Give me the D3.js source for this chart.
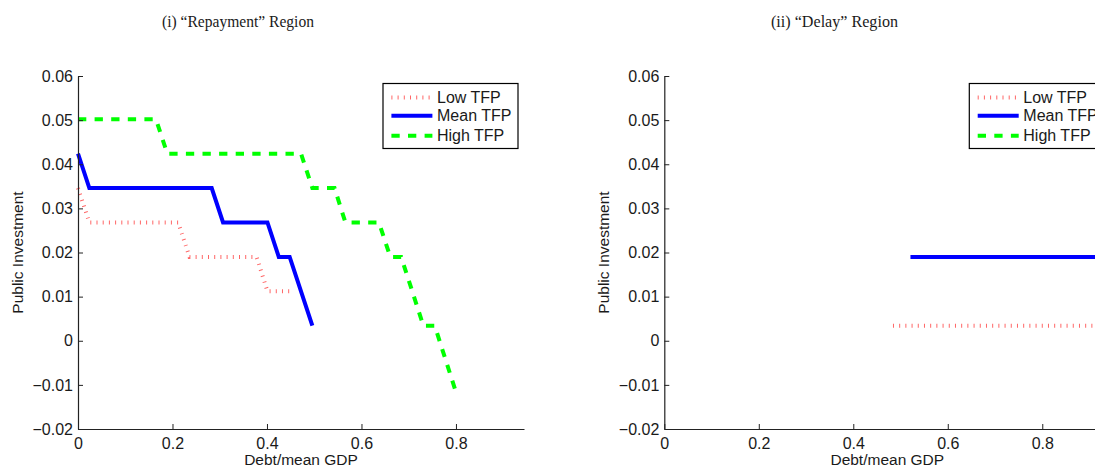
<!DOCTYPE html>
<html>
<head>
<meta charset="utf-8">
<script src="https://cdn.jsdelivr.net/npm/d3@7"></script>
<style>
  body { margin: 0; background: #fff; }
  svg { display: block; }
  text { font-family: "Liberation Sans", Arial, sans-serif; fill: #1a1a1a; }
  .title { font-family: "Liberation Serif", "Times New Roman", serif; font-size: 17px; }
</style>
</head>
<body>
<svg id="chart" width="1095" height="468"></svg>
<script>
// tick values and labels (same for both panels)
var xTicks = [0, 0.2, 0.4, 0.6, 0.8];
var xTickLabels = ["0", "0.2", "0.4", "0.6", "0.8"];
var yTicks = [-0.02, -0.01, 0, 0.01, 0.02, 0.03, 0.04, 0.05, 0.06];
var yTickLabels = ["\u22120.02", "\u22120.01", "0", "0.01", "0.02", "0.03", "0.04", "0.05", "0.06"];

var seriesNames = ["Low TFP", "Mean TFP", "High TFP"];

// (i) Repayment region
var lowRepayX = [0, 0.024, 0.212, 0.236, 0.378, 0.401, 0.448];
var lowRepayY = [0.0346, 0.0268, 0.0268, 0.0190, 0.0190, 0.0112, 0.0112];
var meanRepayX = [0, 0.024, 0.283, 0.307, 0.401, 0.425, 0.448, 0.496];
var meanRepayY = [0.0424, 0.0346, 0.0346, 0.0268, 0.0268, 0.0190, 0.0190, 0.0034];
var highRepayX = [0, 0.165, 0.189, 0.472, 0.496, 0.543, 0.566, 0.637, 0.661, 0.684, 0.731, 0.755, 0.802];
var highRepayY = [0.0502, 0.0502, 0.0424, 0.0424, 0.0346, 0.0346, 0.0268, 0.0268, 0.0190, 0.0190, 0.0034, 0.0034, -0.0123];

// (ii) Delay region
var lowDelayX = [0.484, 0.944];
var lowDelayY = [0.0034, 0.0034];
var meanDelayX = [0.521, 0.944];
var meanDelayY = [0.0190, 0.0190];
var highDelayX = [];
var highDelayY = [];

var styles = [
    { color: "#ff0000", width: 4, dash: "1 5.2", opacity: 0.6 },
    { color: "#0000ff", width: 4, dash: null, opacity: 1 },
    { color: "#00ff00", width: 4, dash: "8.3 8.3", opacity: 1 }
];

var svg = d3.select("#chart");
svg.append("rect").attr("width", 1095).attr("height", 468).attr("fill", "#fff");

function zip(xs, ys) {
    return xs.map(function(x, i) { return { x: x, y: ys[i] }; });
}

function drawPanel(left, title, titleX, titleW, series) {
    var width = 446, top = 76, bottom = 429;

    var x = d3.scaleLinear().domain([0, 0.944]).range([left, left + width]);
    var y = d3.scaleLinear().domain([-0.02, 0.06]).range([bottom, top]);

    // lines
    var line = d3.line()
        .x(function(d) { return x(d.x); })
        .y(function(d) { return y(d.y); });

    series.forEach(function(s, i) {
        if (!s.length) return;
        svg.append("path")
            .datum(s)
            .attr("d", line)
            .attr("fill", "none")
            .attr("stroke", styles[i].color)
            .attr("stroke-width", styles[i].width)
            .attr("stroke-opacity", styles[i].opacity)
            .attr("stroke-dasharray", styles[i].dash);
    });

    // axes, ticks pointing inward
    var xAxis = d3.axisBottom(x)
        .tickValues(xTicks)
        .tickFormat(function(d, i) { return xTickLabels[i]; })
        .tickSizeInner(-5).tickSizeOuter(0).tickPadding(9);
    var yAxis = d3.axisLeft(y)
        .tickValues(yTicks)
        .tickFormat(function(d, i) { return yTickLabels[i]; })
        .tickSizeInner(-5).tickSizeOuter(0).tickPadding(5);

    var gx = svg.append("g").attr("transform", "translate(0," + bottom + ")").call(xAxis);
    var gy = svg.append("g").attr("transform", "translate(" + left + ",0)").call(yAxis);
    [gx, gy].forEach(function(g) {
        g.select(".domain").attr("stroke", "#222").attr("stroke-width", 1.2);
        g.selectAll(".tick line").attr("stroke", "#222");
        g.selectAll("text").style("font-size", "16px").attr("fill", "#1a1a1a");
    });

    // axis labels
    svg.append("text")
        .attr("x", left + 223).attr("y", 465)
        .attr("text-anchor", "middle")
        .style("font-size", "15.5px")
        .text("Debt/mean GDP");
    svg.append("text")
        .attr("transform", "translate(" + (left - 55) + "," + ((top + bottom) / 2) + ") rotate(-90)")
        .attr("text-anchor", "middle")
        .style("font-size", "15.5px")
        .text("Public Investment");

    // title
    svg.append("text")
        .attr("class", "title")
        .attr("x", titleX).attr("y", 27)
        .attr("textLength", titleW)
        .attr("lengthAdjust", "spacingAndGlyphs")
        .text(title);

    // legend
    var lx = left + width - 6 - 135;
    var lg = svg.append("g").attr("transform", "translate(" + lx + ",83.5)");
    lg.append("rect")
        .attr("width", 135).attr("height", 65)
        .attr("fill", "#fff").attr("stroke", "#000").attr("stroke-width", 1.2);
    var rows = [14, 32.2, 52.2];
    seriesNames.forEach(function(name, i) {
        lg.append("line")
            .attr("x1", 8.4).attr("x2", 49.4)
            .attr("y1", rows[i]).attr("y2", rows[i])
            .attr("stroke", styles[i].color)
            .attr("stroke-width", styles[i].width)
            .attr("stroke-opacity", styles[i].opacity)
            .attr("stroke-dasharray", styles[i].dash);
        lg.append("text")
            .attr("x", 54).attr("y", rows[i] + 5.5)
            .style("font-size", "16px")
            .text(name);
    });
}

drawPanel(78, "(i) \u201cRepayment\u201d Region", 162, 152, [
    zip(lowRepayX, lowRepayY),
    zip(meanRepayX, meanRepayY),
    zip(highRepayX, highRepayY)
]);

drawPanel(664.3, "(ii) \u201cDelay\u201d Region", 771, 127, [
    zip(lowDelayX, lowDelayY),
    zip(meanDelayX, meanDelayY),
    zip(highDelayX, highDelayY)
]);
</script>
</body>
</html>
